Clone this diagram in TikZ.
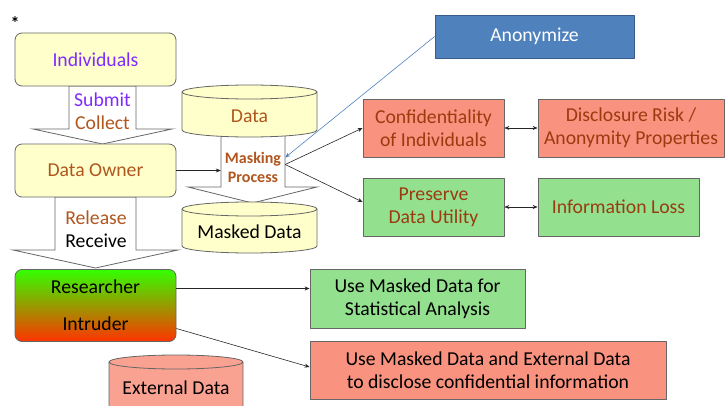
\documentclass[tikz,border=0pt]{standalone}
\usepackage{fontspec}
\setmainfont{Carlito}
\usetikzlibrary{arrows.meta,calc}
\usetikzlibrary{positioning}
\definecolor{boxyellow}{HTML}{FFFFCC}
\definecolor{txtbrown}{HTML}{B0561E}
\definecolor{txtpurple}{HTML}{7F2BFF}
\definecolor{salmontxt}{HTML}{9A3B10}
\definecolor{boxsalmon}{HTML}{F9927E}
\definecolor{boxgreen}{HTML}{93E08F}
\definecolor{anonblue}{HTML}{4F81BD}
\definecolor{anonedge}{HTML}{385D8A}
\definecolor{edgegray}{HTML}{666666}
\definecolor{resgreen}{HTML}{33FF00}
\definecolor{resred}{HTML}{FF3300}
\tikzset{actor/.style={draw=edgegray,line width=0.8pt,rounded corners=7pt,minimum width=161pt,minimum height=53pt,inner sep=0pt,align=center},
  goal/.style={draw=edgegray,line width=0.8pt,minimum height=58pt,inner sep=0pt,align=center},
  blockarrow/.style={draw=edgegray,line width=0.8pt,fill=white,line join=miter},
  drum/.style={draw=edgegray,line width=0.8pt},
  link/.style={draw=black!85,line width=0.6pt,->}}

\begin{document}
\begin{tikzpicture}[x=1pt,y=1pt,>={Stealth[length=5pt,width=4pt]},line join=round,font={\fontsize{19.7}{23}\selectfont}]
\useasboundingbox (0,0) rectangle (726,405);
% --- left column: who hands the data to whom
\node[font={\fontsize{18}{18}\selectfont\bfseries}] (star) at (15,382) {*};
\draw[blockarrow] (69,319) -- (136,319) -- (136,276) -- (172,276) -- (102.5,261) -- (33,276) -- (69,276) -- cycle;
\draw[blockarrow] (55,208) -- (136,208) -- (136,155) -- (178,155) -- (95.5,137) -- (13,155) -- (55,155) -- cycle;
\node[actor,fill=boxyellow,text=txtpurple] (ind) at (95.5,345.5) {Individuals};
\node[actor,fill=boxyellow,text=txtbrown] (own) at (95.5,234.5) {Data Owner};
\node[actor,minimum height=72pt,top color=resgreen,bottom color=resred] (res) at (95.5,99.5) {Researcher\\[14pt]Intruder};
\node[align=center] (subcol) at (102.5,293.5) {\textcolor{txtpurple}{Submit}\\\textcolor{txtbrown}{Collect}};
\node[align=center] (relrec) at (96,176) {\textcolor{txtbrown}{Release}\\Receive};
% --- external data drum
\draw[drum,fill=boxsalmon!85!white] (109,43) -- (109,-20) -- (243,-20) -- (243,43) arc[start angle=0,end angle=180,x radius=67,y radius=7] -- cycle;
\draw[drum] (109,43) arc[start angle=180,end angle=360,x radius=67,y radius=7];
\node (extlbl) at (176,17) {External Data};
% --- masking step
\draw[blockarrow] (221,270) -- (285,270) -- (285,218) -- (317,218) -- (252.5,202) -- (188,218) -- (221,218) -- cycle;
\draw[drum,fill=boxyellow] (182,313) -- (182,275) arc[start angle=180,end angle=360,x radius=67.5,y radius=7] -- (317,313) arc[start angle=0,end angle=180,x radius=67.5,y radius=7] -- cycle;
\draw[drum] (182,313) arc[start angle=180,end angle=360,x radius=67.5,y radius=7];
\node[text=txtbrown] (datalbl) at (249.5,289) {Data};
\draw[drum,fill=boxyellow] (182,196) -- (182,159) arc[start angle=180,end angle=360,x radius=67.5,y radius=7] -- (317,196) arc[start angle=0,end angle=180,x radius=67.5,y radius=7] -- cycle;
\draw[drum] (182,196) arc[start angle=180,end angle=360,x radius=67.5,y radius=7];
\node (maskedlbl) at (249.5,173) {Masked Data};
\node[minimum width=64pt,inner sep=0pt,align=center,text=txtbrown,font={\fontsize{16}{19}\selectfont\bfseries}] (mask) at (253,237.5) {Masking\\Process};
% --- right side goals
\node[draw=anonedge,line width=0.8pt,fill=anonblue,text=white,minimum width=199pt,minimum height=43pt] (anon) at (534.5,368.5) {Anonymize};
\node[goal,fill=boxsalmon,text=salmontxt,minimum width=141pt] (conf) at (433.5,277) {Confidentiality\\of Individuals};
\node[goal,fill=boxsalmon,text=salmontxt,minimum width=186pt] (disc) at (631,277) {Disclosure Risk /\\Anonymity Properties};
\node[goal,fill=boxgreen,text=salmontxt,minimum width=141pt] (pres) at (433.5,198) {Preserve\\Data Utility};
\node[goal,fill=boxgreen,text=salmontxt,minimum width=161pt] (loss) at (618.5,198) {Information Loss};
\node[goal,fill=boxgreen,minimum width=215pt,minimum height=59pt] (stat) at (417.5,106.5) {Use Masked Data for\\Statistical Analysis};
\node[goal,fill=boxsalmon,minimum width=356pt] (attack) at (488,35) {Use Masked Data and External Data\\to disclose confidential information};
% --- connectors
\coordinate (mpin) at ([yshift=10pt]mask.east);
\coordinate (mpout) at ([yshift=3pt]mask.east);
\draw[link] (own.east) -- (own.east -| mask.west);
\draw[->,anonblue,line width=0.6pt] (anon.west) -- (mpin);
\draw[link] (mpout) -- (conf.west);
\draw[link] (mpout) -- ([yshift=5pt]pres.west);
\draw[<->,black!85,line width=0.6pt] (conf.east) -- (disc.west);
\draw[<->,black!85,line width=0.6pt] (pres.east) -- (loss.west);
\draw[link] ([yshift=17pt]res.east) -- ([yshift=17pt]res.east -| stat.west);
\draw[link] ([yshift=-23pt]res.east) -- ([yshift=3pt]attack.west);
\end{tikzpicture}
\end{document}
